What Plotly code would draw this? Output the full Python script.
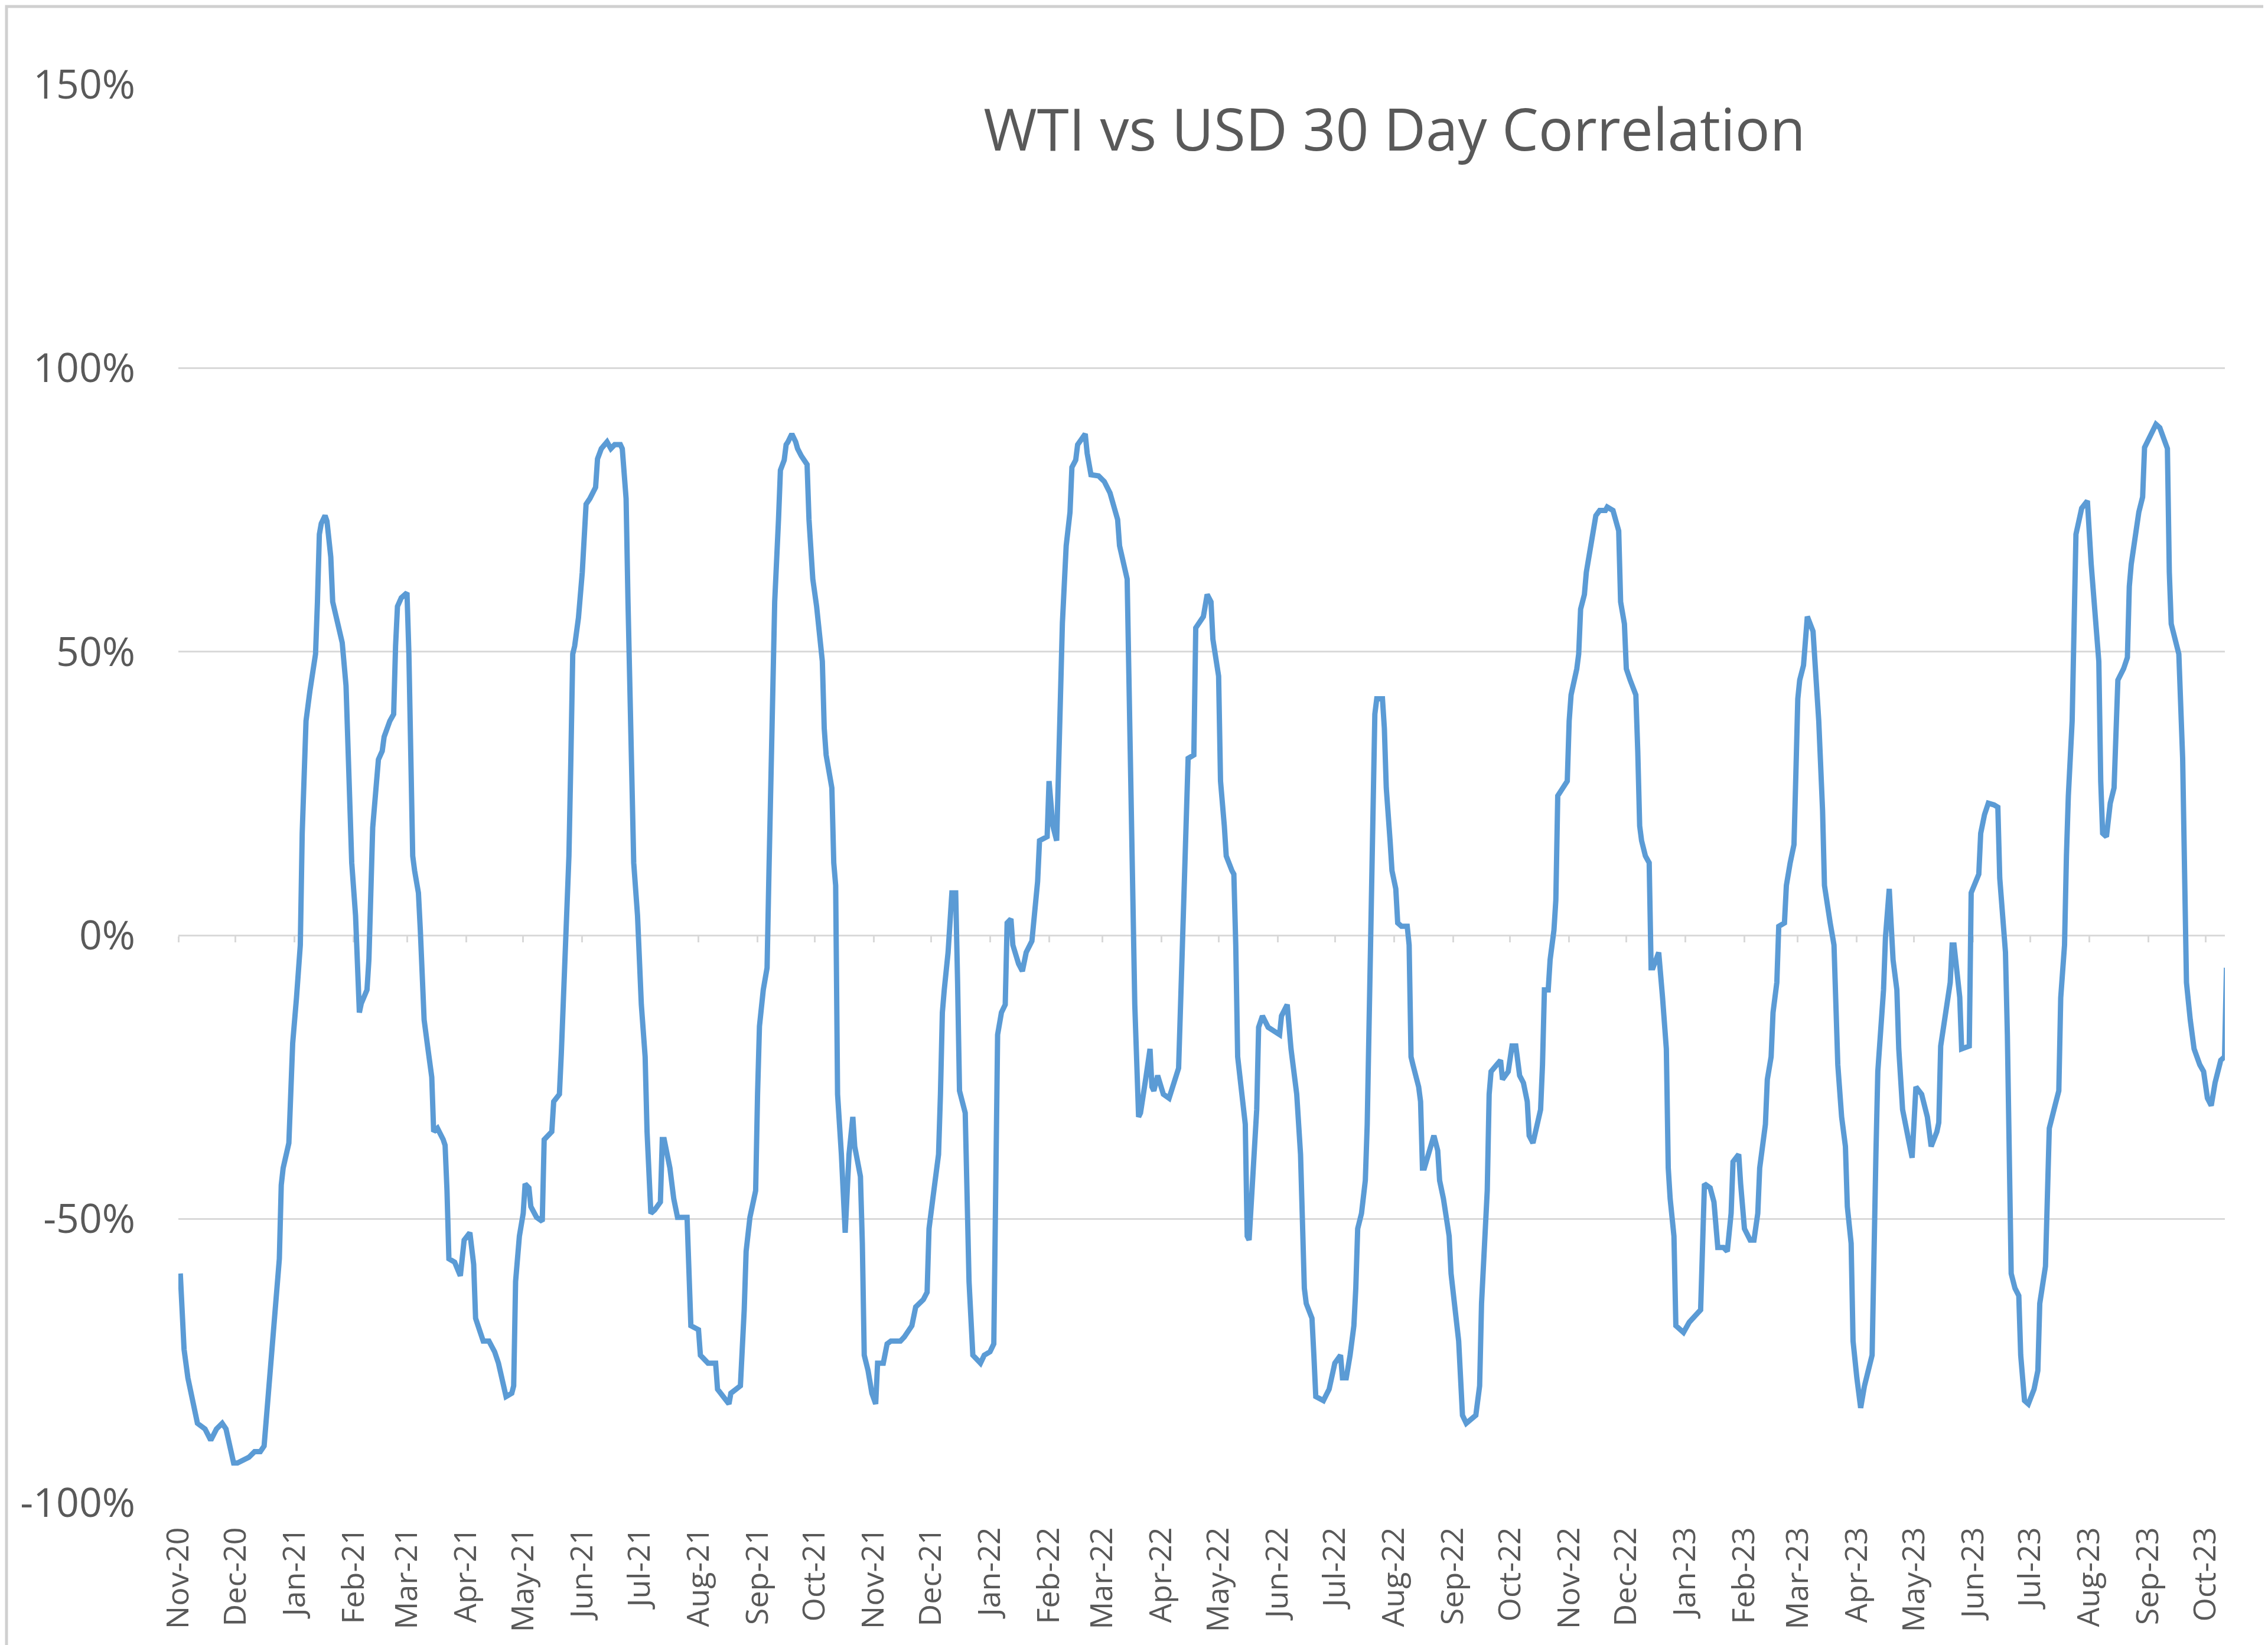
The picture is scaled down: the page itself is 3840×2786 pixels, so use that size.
import pandas as pd
import plotly.graph_objects as go

# ---- data (day offset from 2020-11-01, correlation in %) ----
start_date = "2020-11-01"
day_offset = [
    1, 2, 3, 5, 8, 10, 14, 17, 20, 23, 25, 27, 29, 31, 35, 37, 40, 43, 45, 46, 47, 49, 50, 52, 53, 54, 55, 58, 59, 60,
    62, 63, 64, 65, 66, 67, 69, 72, 73, 74, 75, 77, 78, 80, 81, 84, 86, 88, 89, 90, 91, 93, 94, 95, 96, 99, 100, 101,
    102, 103, 105, 107, 108, 111, 113, 114, 115, 117, 120, 121, 122, 123, 124, 126, 127, 128, 129, 131, 133, 134, 136,
    139, 140, 141, 142, 145, 148, 150, 153,
    155, 156, 158, 160, 163, 166, 168, 170, 172, 175, 176, 177, 179, 181, 182, 184, 185, 188, 191, 192, 196, 197, 200,
    201, 202, 203, 205, 206, 207, 208, 210, 212, 213, 214, 216, 219, 220, 222, 225, 227, 229, 232, 233, 234, 235, 236,
    237, 238, 239, 241, 242, 243, 245, 246, 248, 250, 253, 254, 255, 258, 260, 262, 267, 268, 269, 273, 274, 278, 282,
    283, 286, 289, 290, 295, 297, 298, 300, 303,
    304, 305, 307, 309, 310, 311, 312, 313, 315, 316, 318, 319, 320, 322, 324, 325, 327, 330, 331, 332, 333, 335, 337,
    338, 339, 340, 343, 344, 345, 346, 348, 349, 350, 352, 354, 355, 358, 359, 360, 362, 364, 366, 367, 370, 372, 374,
    379, 381, 385, 387, 391, 393, 394, 396, 399, 400, 401, 402, 404, 406, 408, 409, 410, 413, 414, 415, 417, 421, 423,
    426, 428, 429, 430, 432, 434, 435, 437, 438, 441, 443, 445, 448, 450, 451, 452, 456, 457, 459, 461,
    463, 464, 466, 468, 469, 471, 472, 476, 477, 479, 483, 486, 489, 491, 493, 494, 496, 498, 499, 500, 501, 502, 504,
    505, 508, 510, 511, 512, 514, 517, 520, 522, 525, 527, 528, 529, 530, 533, 534, 538, 540, 542, 543, 546, 547, 549,
    550, 553, 554, 555, 556, 560, 561, 562, 564, 566, 567, 569, 572, 575, 578, 579, 582, 584, 587, 589, 590, 591, 592,
    595, 596, 597, 601, 604, 607, 610, 611, 613, 615,
    617, 618, 619, 621, 623, 624, 625, 626, 627, 628, 629, 632, 633, 634, 636, 637, 639, 640, 642, 645, 646, 647, 648,
    651, 652, 653, 654, 656, 659, 661, 662, 664, 667, 668, 671, 672, 674, 676, 681, 683, 684, 685, 687, 688, 689, 692,
    694, 695, 698, 700, 702, 704, 706, 708, 709, 711, 713, 715, 716, 717, 719, 720, 722, 723, 724, 727, 729, 730, 731,
    734, 735, 736, 738, 739, 741, 742, 744, 746, 749, 750, 753, 756, 757, 759, 760, 762, 765, 766, 767, 768,
    770, 772, 773, 774, 777, 779, 781, 782, 783, 785, 786, 790, 793, 799, 800, 801, 804, 806, 808, 811, 813, 815, 816,
    819, 820, 822, 825, 827, 829, 830, 833, 834, 836, 837, 839, 840, 843, 844, 846, 848, 849, 850, 851, 853, 855, 856,
    858, 859, 861, 863, 864, 867, 869, 871, 873, 875, 876, 878, 879, 881, 883, 885, 889, 891, 892, 895, 896, 898, 900,
    902, 903, 905, 907, 910, 912, 915, 918, 920, 923,
    924, 925, 927, 930, 931, 932, 935, 936, 940, 941, 945, 946, 948, 950, 953, 955, 956, 959, 960, 961, 962, 964, 966,
    967, 969, 971, 974, 976, 977, 980, 981, 982, 985, 987, 988, 990, 991, 992, 994, 995, 996, 999, 1002, 1004, 1006,
    1008, 1009, 1010, 1012, 1014, 1016, 1017, 1018, 1021, 1023, 1024, 1025, 1029, 1031, 1032, 1035, 1038, 1040, 1044,
    1045, 1046, 1050, 1052, 1053, 1054, 1056, 1058, 1061, 1063, 1065, 1067, 1069, 1072, 1074, 1075,
]
corr_pct = [
    -59.6, -66, -73, -78, -83, -86, -87, -89, -87, -86, -87, -90.5, -93, -93, -92.5, -92, -91, -91, -90, -86, -81, -75,
    -70, -63.5, -57, -44, -41, -36.6, -28, -19,
    -11, -7, -1.7, 18, 26, 37.8, 43, 49.6, 58.8, 70.7, 72.6, 74, 73, 66.7, 58.8, 55, 51.6, 44, 33.8, 23, 12.8, 3.5,
    -8.3, -13.6, -12, -9.6, -4.3, 8.8,
    19, 23, 31, 32.5, 35, 37.8, 39, 51, 58, 59.5, 60.4, 49.6, 35, 14, 11.4, 7.5, 0.9, -8.3, -14.9, -20, -25, -34.6, -34,
    -36, -37, -45, -57, -57.6, -60, -53.7, -52.4,
    -58, -67.5, -69.5, -71.5, -71.5, -73.4, -75.4, -78.7, -81.3, -80.7, -79.4, -61, -53, -49, -43.8, -44.5, -47.8,
    -49.7, -50.4, -36, -34.6, -29.3, -28,
    -20.8, -12.2, -3, 14, 31, 49.6, 51, 56, 64, 69, 76, 77, 79, 84, 85.8, 87, 85.8, 86.5, 86.5, 85.8, 80.5, 77, 58.8,
    43, 24.6, 12.8, 3.5, -5.7, -12.2, -21.4, -34.6, -49, -48.4, -47, -36, -36, -41, -46.4, -49.7, -49.7, -61, -68.8,
    -69.5, -74, -75.4, -75.4,
    -80, -81.3, -82.6, -80.7, -79.4, -66, -55.7, -49.7, -45,
    -28, -16, -9.6, -5.7, 11.4, 27, 47, 58.8, 73.3, 82, 83.8, 86.5, 87, 88.4, 87, 85.8, 84.5, 83, 73.3, 65.4, 62.8, 58,
    51.6,
    48.3, 36.5, 31.8, 26, 12.8, 8.8, -28, -38.6, -43.8, -52.4, -38.6, -32, -37.2, -42.5, -54.3, -74, -76.7, -80.7,
    -82.6, -75.4, -75.4, -72, -71.5,
    -71.5, -70.8, -68.8, -65.5, -64.2, -62.9, -51.7, -46.4, -38.6, -28, -13.6, -9.6, -3, 7.5, 7.5, -8.3, -27.4, -31.3,
    -45, -61, -74, -75.4, -74,
    -73.4, -72, -41, -17.5, -13.6, -12.2, 2.2, 2.9, -1.7, -5, -6.3, -3, -1, 6.2, 9.5, 16.7, 17.4, 27.2, 19.3, 16.7,
    43, 55, 68.7, 74.6, 82.5, 83.8, 86.5, 88.4, 85, 81.2, 81, 80, 78, 76, 73.3, 68.7, 65.4, 62.8, 44, 24.6, -1.7, -12.2,
    -32,
    -31.3, -24.7, -20, -26.7, -27.4, -24.7, -28, -28.7, -26.7, -23.4, -1.7, 11.4, 20.7, 31.2, 31.8, 54.2, 56.2, 60.1,
    58.8, 52.2, 45.7, 27.2, 19.3,
    14, 11.4, 10.8, -1.7, -21.4, -33.3, -53, -53.7, -41, -30.7, -16.2, -14.2, -16.2, -16.8, -17.5, -14.2, -12.2, -20,
    -28, -38.6, -51.7, -62.2, -64.9,
    -67.5, -74, -81.3, -82, -80, -75.4, -74, -78, -78, -74,
    -68.8, -62.2, -51.7, -49, -43.2, -33.3, -12.2, 0.9, 19.3, 39, 41.7, 41.7, 36.5, 26, 16.7, 11.4, 8.2, 2.2, 1.6, 1.6,
    -1.7, -21.4, -22.8,
    -26.7, -29.3, -41, -41, -38.6, -35.3, -37.9, -43.2, -46.4, -53, -59.6, -67.5, -71.5, -84.6, -86, -84.6, -79.4,
    -64.9, -58.3, -45, -28, -24, -22.8,
    -22, -25.4, -24, -19.5, -19.5, -24.7, -26, -29.3, -35.3, -36.6, -34, -30.7, -22.8, -9.6, -9.6, -4.3, 0.9, 6.2, 24.6,
    26, 27.2, 37.8, 42.4,
    47, 49.6, 57.5, 60.1, 64, 68, 71.3, 74, 74.9, 74.9, 75.5, 74.9, 71.3, 58.8, 54.9, 47, 45, 42.4, 32.5, 19.3, 16.7,
    14, 12.8, -5.7, -5.7, -3, -10.9, -20, -41, -46.4, -53, -68.8, -70, -68.2, -66, -54.3, -43.8, -44.5, -47, -55, -55,
    -55.7, -49, -39.9,
    -38.6, -43.8, -51.7, -53.7, -53.7, -49, -41, -33.3, -25.4, -21.4, -13.6, -8.3, 1.6, 2.2, 8.8, 12.8, 16, 28.6, 41.7,
    45, 47.6, 56.2, 55.5,
    53.6, 48.3, 37.8, 22, 8.8, 2.2, -1.7, -22.8, -32, -37.2, -47.8, -54.3, -71.5, -78, -83.3, -79.4, -74, -38.6, -24,
    -9.6, -0.4, 8.2, -4.3,
    -9.6, -20, -30.7, -34.6, -39.2, -26.7, -28, -32, -37.2, -34.6,
    -33, -19.5, -15.5, -8.3, -1.7, -1.7, -10.9, -20, -19.5, 7.5, 10.8, 18, 21.3, 23.3, 23, 22.6, 10.1, -3, -17.5, -41.2,
    -59.6, -62.2, -63.5,
    -74, -82, -82.6, -80, -76.7, -64.9, -58.3, -43.8, -34, -30, -27.4, -11, -1.7, 14, 24.6, 37.8, 51, 70.7, 75.3, 76.6,
    65.4, 56.2,
    48.3, 27.2, 18, 17.4, 23.3, 26, 35, 45, 47, 49, 61.5, 65.4, 74.6, 77.3, 86, 88, 90.1, 89.5, 85.8,
    64, 54.9, 49.6, 31.2, 11.4, -8.3, -14.9, -20, -22.8, -24, -28.7, -30, -26, -22, -21.4, -5.7,
]
y_tick_values = [-1.0, -0.5, 0.0, 0.5, 1.0, 1.5]
y_tick_labels = ["-100%", "-50%", "0%", "50%", "100%", "150%"]
title_text = "WTI vs USD 30 Day Correlation"

assert len(day_offset) == len(corr_pct), (len(day_offset), len(corr_pct))

dates = pd.Timestamp(start_date) + pd.to_timedelta(day_offset, unit="D")
values = [v / 100.0 for v in corr_pct]

x_range = ["2020-11-01", "2023-10-11 04:00"]
grey_text = "#595959"
grid = "#d9d9d9"
font_family = "Open Sans, Noto Sans, DejaVu Sans, sans-serif"

fig = go.Figure()
fig.add_trace(go.Scatter(
    x=dates, y=values, mode="lines",
    line=dict(color="#5B9BD5", width=9),
    showlegend=False, hoverinfo="x+y",
))
# helper trace so the zero-line axis (with monthly tick marks) is drawn
fig.add_trace(go.Scatter(
    x=[dates[0]], y=[values[0]], xaxis="x2", mode="markers",
    marker=dict(opacity=0), showlegend=False, hoverinfo="skip",
))

fig.update_layout(
    width=3840, height=2786,
    paper_bgcolor="white", plot_bgcolor="white",
    margin=dict(l=294, r=81, t=135, b=249, autoexpand=False),
    font=dict(family=font_family, color=grey_text),
    title=dict(
        text=title_text, x=2353 / 3840, xanchor="center",
        yref="container", y=1 - 213 / 2786, yanchor="middle",
        font=dict(size=98, color=grey_text, family=font_family),
    ),
    xaxis=dict(
        type="date", range=x_range,
        tick0="2020-11-01", dtick="M1", tickformat="%b-%y",
        tickangle=-90, ticks="", showgrid=False, zeroline=False, showline=False,
        tickfont=dict(size=52, color=grey_text, family=font_family),
        ticklabelstandoff=30,
    ),
    xaxis2=dict(
        type="date", range=x_range, overlaying="x", anchor="free", position=0.4,
        tick0="2020-11-01", dtick="M1", showticklabels=False,
        ticks="outside", ticklen=10, tickwidth=3, tickcolor=grid,
        showline=True, linecolor=grid, linewidth=3, showgrid=False, zeroline=False,
        layer="below traces",
    ),
    yaxis=dict(
        range=[-1.0, 1.5], tickvals=y_tick_values, ticktext=y_tick_labels,
        showgrid=True, gridcolor=grid, gridwidth=3, zeroline=False, showline=False,
        ticks="", tickfont=dict(size=68, color=grey_text, family=font_family),
        ticklabelstandoff=72,
    ),
    shapes=[dict(
        type="rect", xref="paper", yref="paper",
        x0=(3 - 294) / 3465, x1=(3836 - 294) / 3465,
        y0=(2537 - 2782) / 2402, y1=(2537 - 3) / 2402,
        line=dict(color="#d0d0d0", width=5), fillcolor="rgba(0,0,0,0)", layer="below",
    )],
)

fig.write_html("out.html")
